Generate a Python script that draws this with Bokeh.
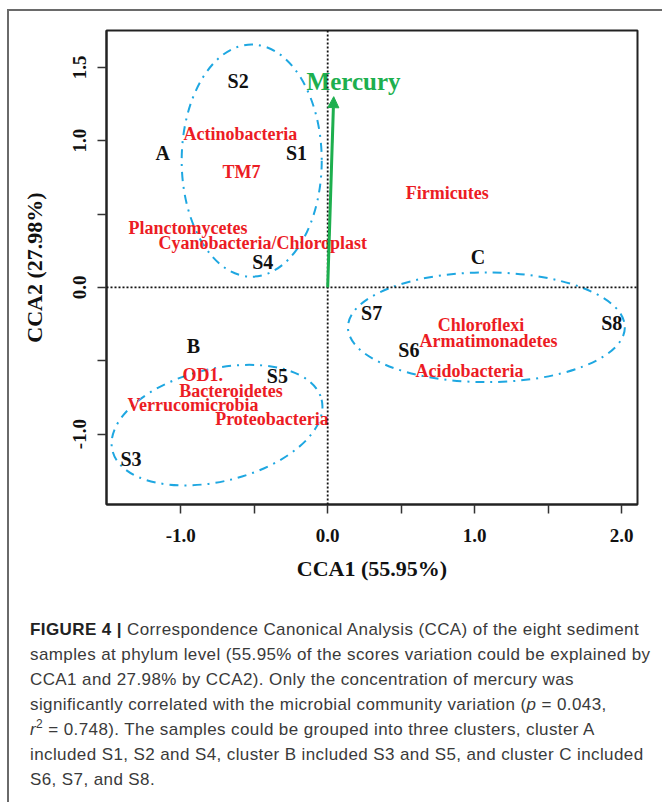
from bokeh.plotting import figure
from bokeh.models import ColumnDataSource, Span, Arrow, NormalHead, Div, FixedTicker, Range1d
from bokeh.layouts import column
from bokeh.core.properties import value
from bokeh.embed import file_html
from bokeh.resources import INLINE

# Sample site scores (CCA1, CCA2)
samples = ["S1", "S2", "S3", "S4", "S5", "S6", "S7", "S8"]
sample_cca1 = [-0.212, -0.609, -1.338, -0.442, -0.342, 0.552, 0.299, 1.933]
sample_cca2 = [0.918, 1.406, -1.167, 0.175, -0.607, -0.424, -0.174, -0.242]

# Phylum (species) scores
phyla = ["Actinobacteria", "TM7", "Firmicutes", "Planctomycetes",
         "Cyanobacteria/Chloroplast", "Chloroflexi", "Armatimonadetes",
         "Acidobacteria", "OD1.", "Bacteroidetes", "Verrucomicrobia",
         "Proteobacteria"]
phyla_cca1 = [-0.594, -0.586, 0.813, -0.950, -0.442, 1.043, 1.094, 0.965,
              -0.850, -0.658, -0.916, -0.379]
phyla_cca2 = [1.043, 0.789, 0.646, 0.408, 0.302, -0.254, -0.363, -0.567,
              -0.600, -0.703, -0.805, -0.895]

# Sample clusters: label position and the dispersion ellipse around members
clusters = ["A", "B", "C"]
cluster_label_cca1 = [-1.122, -0.913, 1.022]
cluster_label_cca2 = [0.918, -0.397, 0.209]
cluster_center_cca1 = [-0.517, -0.753, 1.080]
cluster_center_cca2 = [0.864, -0.939, -0.272]
cluster_width = [0.953, 1.465, 1.884]
cluster_height = [1.583, 0.767, 0.748]
cluster_angle = [0.0, 0.239, 0.0]

# Environmental vector
env_name = "Mercury"
env_cca1 = 0.041
env_cca2 = 1.30
env_label_cca1 = 0.176
env_label_cca2 = 1.406

# Axes
x_ticks = [-1.0, -0.5, 0.0, 0.5, 1.0, 1.5, 2.0]
x_tick_labels = ["-1.0", "", "0.0", "", "1.0", "", "2.0"]
y_ticks = [-1.0, -0.5, 0.0, 0.5, 1.0, 1.5]
y_tick_labels = ["-1.0", "", "0.0", "", "1.0", "1.5"]

SERIF = "Liberation Serif"
RED = "#EC1C24"
GREEN = "#1DAF4E"
BLUE = "#1EA7E1"

p = figure(width=653, height=579,
           x_range=Range1d(-1.505, 2.108), y_range=Range1d(-1.480, 1.751),
           output_backend="svg", toolbar_location=None,
           min_border_left=97, min_border_right=25,
           min_border_top=19, min_border_bottom=86)
p.xgrid.visible = False
p.ygrid.visible = False
p.outline_line_color = "#222222"
p.outline_line_width = 2
p.outline_line_alpha = 1.0

for ax, ticks, labels in ((p.xaxis[0], x_ticks, x_tick_labels),
                          (p.yaxis[0], y_ticks, y_tick_labels)):
    ax.ticker = FixedTicker(ticks=ticks)
    ax.major_label_overrides = {t: l for t, l in zip(ticks, labels)}
    ax.minor_tick_line_color = None
    ax.major_tick_in = 0
    ax.major_tick_out = 9
    ax.major_tick_line_color = "#333333"
    ax.major_tick_line_width = 1.5
    ax.axis_line_color = "#222222"
    ax.axis_line_width = 2
    ax.major_label_text_font = SERIF
    ax.major_label_text_font_style = "bold"
    ax.major_label_text_font_size = "19px"
    ax.major_label_text_color = "#111111"
    ax.axis_label_text_font = SERIF
    ax.axis_label_text_font_style = "bold"
    ax.axis_label_text_font_size = "22px"
    ax.axis_label_text_color = "#111111"

p.xaxis.axis_label = "CCA1 (55.95%)"
p.yaxis.axis_label = "CCA2 (27.98%)"
p.yaxis.major_label_orientation = "vertical"
p.xaxis.major_label_standoff = 15
p.yaxis.major_label_standoff = 11
p.xaxis.axis_label_standoff = 11
p.yaxis.axis_label_standoff = 24

# Origin reference lines
for dim, loc in (("height", 0), ("width", 0)):
    p.add_layout(Span(location=loc, dimension=dim, line_color="#111111",
                      line_dash="2 2", line_width=1.8))

# Cluster ellipses
ell = ColumnDataSource(dict(x=cluster_center_cca1, y=cluster_center_cca2,
                            w=cluster_width, h=cluster_height, a=cluster_angle))
p.ellipse(x="x", y="y", width="w", height="h", angle="a", source=ell,
          fill_color=None, line_color=BLUE, line_width=2, line_dash="9 6 2 6")

# Mercury vector
p.add_layout(Arrow(x_start=0, y_start=0, x_end=env_cca1, y_end=env_cca2,
                   line_color=GREEN, line_width=3,
                   end=NormalHead(size=11, fill_color=GREEN, line_color=GREEN,
                                  line_width=1)))
p.text(x=[env_label_cca1], y=[env_label_cca2], text=[env_name],
       text_color=GREEN, text_font=value(SERIF), text_font_style="bold",
       text_font_size="25px", text_align="center", text_baseline="middle")

# Phylum labels
ph = ColumnDataSource(dict(x=phyla_cca1, y=phyla_cca2, t=phyla))
p.text(x="x", y="y", text="t", source=ph, text_color=RED,
       text_font=value(SERIF), text_font_style="bold", text_font_size="18px",
       text_align="center", text_baseline="middle")

# Sample labels
sm = ColumnDataSource(dict(x=sample_cca1, y=sample_cca2, t=samples))
p.text(x="x", y="y", text="t", source=sm, text_color="#111111",
       text_font=value(SERIF), text_font_style="bold", text_font_size="20px",
       text_align="center", text_baseline="middle")

# Cluster letters
cl = ColumnDataSource(dict(x=cluster_label_cca1, y=cluster_label_cca2, t=clusters))
p.text(x="x", y="y", text="t", source=cl, text_color="#111111",
       text_font=value(SERIF), text_font_style="bold", text_font_size="20px",
       text_align="center", text_baseline="middle")

caption_lines = [
    "<b style='color:#222'>FIGURE 4 |</b> Correspondence Canonical Analysis (CCA) of the eight sediment",
    "samples at phylum level (55.95% of the scores variation could be explained by",
    "CCA1 and 27.98% by CCA2). Only the concentration of mercury was",
    "significantly correlated with the microbial community variation (<i>p</i> = 0.043,",
    "<i>r</i><sup style='font-size:12px;line-height:0'>2</sup> = 0.748). The samples could be grouped into three clusters, cluster A",
    "included S1, S2 and S4, cluster B included S3 and S5, and cluster C included",
    "S6, S7, and S8.",
]
caption = Div(
    text=("<div style=\"font-family:'Liberation Sans';font-size:17px;"
          "letter-spacing:0.4px;line-height:25px;color:#3a3a3a;white-space:nowrap;"
          "padding-top:22px;padding-left:16px;\">"
          + "<br>".join(caption_lines) + "</div>"),
    width=653, height=212)

layout = column(p, caption, spacing=0,
                styles={"margin-left": "7px", "margin-top": "9px",
                        "border-left": "2px solid #6a6a6a",
                        "border-top": "2px solid #6a6a6a"})

open("out.html", "w").write(file_html(layout, INLINE))
